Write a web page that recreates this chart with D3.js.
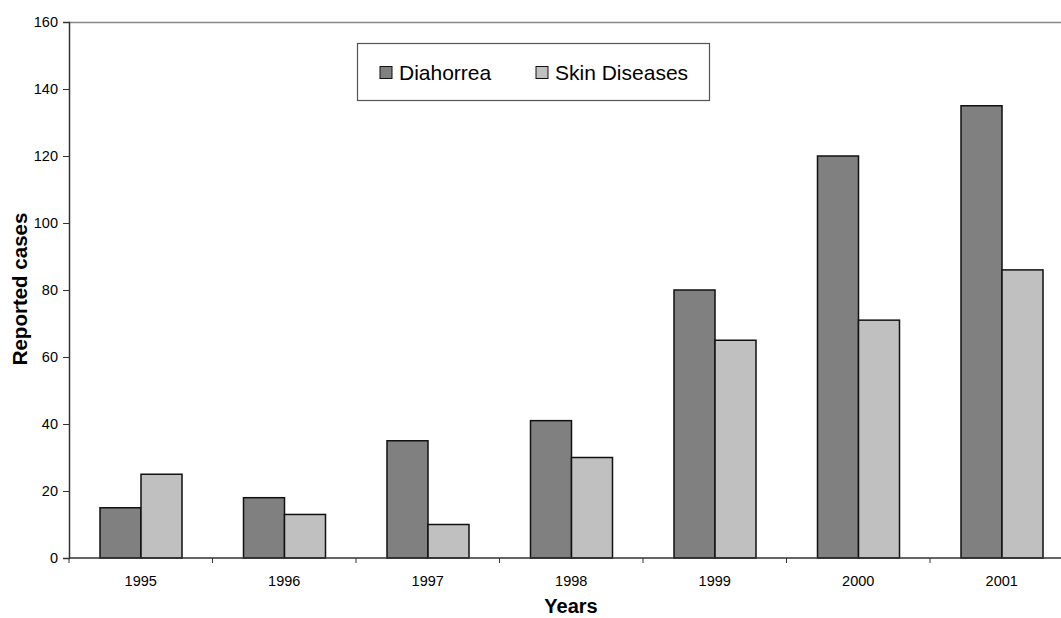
<!DOCTYPE html>
<html><head><meta charset="utf-8">
<script src="https://cdn.jsdelivr.net/npm/d3@7"></script>
<style>body{margin:0;background:#fff}svg{display:block;font-family:"Liberation Sans",Arial,sans-serif}</style>
</head><body>
<svg id="c" width="1061" height="618"></svg>
<script>
const years = ["1995","1996","1997","1998","1999","2000","2001"];
const diahorrea = [15,18,35,41,80,120,135];
const skinDiseases = [25,13,10,30,65,71,86];
const yTicks = [0,20,40,60,80,100,120,140,160];
const seriesNames = ["Diahorrea","Skin Diseases"];
const seriesColors = ["#808080","#c0c0c0"];

(function(){
const svg = d3.select("#c");
const pLeft = 69, pTop = 22, pBottom = 558, pRight = 69 + 7*143.5;
const x = d3.scaleBand().domain(years).range([pLeft, pRight]).paddingInner(0).paddingOuter(0);
const x1 = d3.scaleBand().domain(seriesNames).range([31, 31+82]);
const y = d3.scaleLinear().domain([0,160]).range([pBottom, pTop]);

// top border
svg.append("line").attr("x1", pLeft).attr("x2", 1061).attr("y1", pTop+0.5).attr("y2", pTop+0.5)
  .attr("stroke","#888").attr("stroke-width",1.5);

const data = years.map((yr,i)=>({yr, vals:[diahorrea[i], skinDiseases[i]]}));
const g = svg.append("g");
data.forEach(d=>{
  d.vals.forEach((v,j)=>{
    g.append("rect")
      .attr("x", x(d.yr) + x1(seriesNames[j]))
      .attr("y", y(v))
      .attr("width", x1.bandwidth())
      .attr("height", pBottom - y(v))
      .attr("fill", seriesColors[j])
      .attr("stroke","#111").attr("stroke-width",1.5);
  });
});

// y axis
const ya = svg.append("g").attr("transform",`translate(${pLeft},0)`)
  .call(d3.axisLeft(y).tickValues(yTicks).tickSize(6).tickPadding(5));
ya.select(".domain").attr("stroke","#333").attr("stroke-width",1.5);
ya.selectAll(".tick line").attr("stroke","#333");
ya.selectAll("text").attr("font-size",14.5).attr("fill","#000").attr("font-family","Liberation Sans, Arial");

// x axis
const xa = svg.append("g").attr("transform",`translate(0,${pBottom})`);
xa.append("line").attr("x1",pLeft).attr("x2",1061).attr("y1",0).attr("y2",0).attr("stroke","#333").attr("stroke-width",1.5);
years.forEach(yr=>{
  xa.append("line").attr("x1",x(yr)).attr("x2",x(yr)).attr("y1",0).attr("y2",5).attr("stroke","#333");
  xa.append("text").attr("x",x(yr)+x.bandwidth()/2).attr("y",27.5).attr("text-anchor","middle")
    .attr("font-size",14.5).attr("fill","#000").text(yr);
});

// titles
svg.append("text").attr("x",571).attr("y",613).attr("text-anchor","middle")
  .attr("font-size",20).attr("font-weight","bold").text("Years");
svg.append("text").attr("transform","translate(27,289) rotate(-90)").attr("text-anchor","middle")
  .attr("font-size",20.5).attr("font-weight","bold").text("Reported cases");

// legend
const lg = svg.append("g");
lg.append("rect").attr("x",357.5).attr("y",43.5).attr("width",352).attr("height",57)
  .attr("fill","#fff").attr("stroke","#555").attr("stroke-width",1.2);
const lx = [380, 536];
seriesNames.forEach((n,j)=>{
  lg.append("rect").attr("x",lx[j]).attr("y",66.5).attr("width",12).attr("height",12)
    .attr("fill",seriesColors[j]).attr("stroke","#111").attr("stroke-width",1);
  lg.append("text").attr("x",lx[j]+19).attr("y",80).attr("font-size",21).attr("fill","#000").text(n);
});
})();
</script>
</body></html>
